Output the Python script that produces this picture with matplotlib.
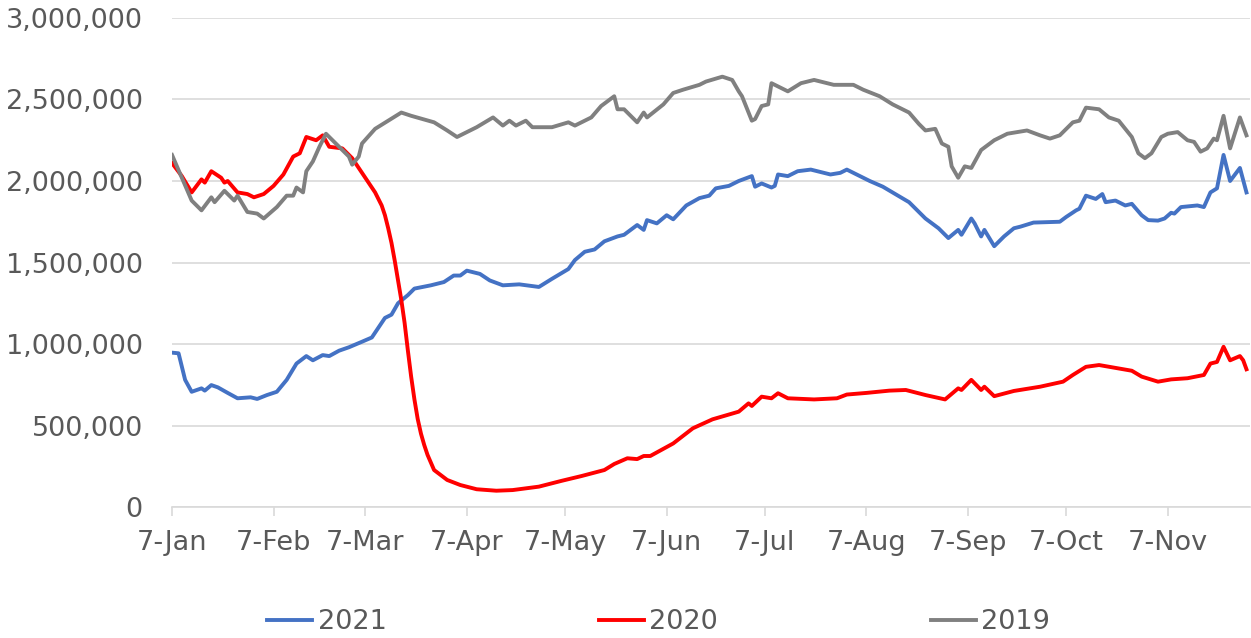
import numpy as np
import matplotlib
matplotlib.use("Agg")
import matplotlib.pyplot as plt
from matplotlib.ticker import FuncFormatter

# days counted from 7-Jan, values in millions
days_2021 = [0, 2, 4, 6, 9, 10, 12, 14, 17, 20, 24, 26, 29, 32, 35, 38, 41, 43, 46, 48,
             51, 54, 58, 61, 63, 65, 67, 69, 72, 74, 79, 83, 86, 88, 90, 94, 97, 101, 106, 112,
             116, 121, 123, 126, 129, 132, 136, 138, 142, 144, 145, 148, 151, 153, 157, 161, 164, 166, 170, 173,
             177, 178, 180, 183, 184, 185, 188, 191, 195, 201, 204, 206, 213, 217, 225, 230, 234, 237, 240, 241,
             244, 245, 247, 248, 251, 254, 257, 259, 263, 271, 273, 276, 277, 279, 282, 284, 285, 288, 291, 293,
             296, 298, 301, 303, 305, 306, 308, 313, 315, 317, 319, 321, 323, 326, 328]
vals_2021 = [0.947, 0.943, 0.78, 0.707, 0.728, 0.714, 0.748, 0.734, 0.70, 0.667, 0.673, 0.663, 0.687, 0.707, 0.78, 0.88, 0.926, 0.90, 0.932, 0.926,
             0.959, 0.98, 1.014, 1.04, 1.10, 1.16, 1.18, 1.25, 1.30, 1.34, 1.36, 1.38, 1.42, 1.42, 1.45, 1.43, 1.39, 1.36, 1.366, 1.35,
             1.40, 1.46, 1.515, 1.566, 1.58, 1.63, 1.66, 1.67, 1.73, 1.70, 1.76, 1.74, 1.79, 1.765, 1.85, 1.895, 1.91, 1.955, 1.97, 2.00,
             2.03, 1.965, 1.985, 1.96, 1.97, 2.04, 2.03, 2.06, 2.07, 2.04, 2.05, 2.07, 2.00, 1.965, 1.87, 1.77, 1.71, 1.65, 1.70, 1.67,
             1.77, 1.74, 1.66, 1.70, 1.60, 1.66, 1.71, 1.72, 1.745, 1.75, 1.78, 1.82, 1.83, 1.91, 1.89, 1.92, 1.87, 1.88, 1.85, 1.86,
             1.79, 1.76, 1.757, 1.77, 1.805, 1.80, 1.84, 1.85, 1.84, 1.93, 1.955, 2.16, 2.00, 2.08, 1.93]

days_2020 = [0, 3, 6, 9, 10, 12, 15, 16, 17, 20, 23, 25, 28, 31, 34, 37, 39, 41, 44, 46,
             48, 52, 55, 58, 60, 62, 64, 65, 66, 67, 68, 69, 70, 71, 72, 73, 74, 75, 76, 77,
             78, 80, 84, 88, 93, 99, 104, 112, 119, 125, 132, 135, 139, 142, 144, 146, 153, 159, 165, 173,
             176, 177, 180, 183, 185, 188, 196, 203, 206, 212, 219, 224, 230, 236, 240, 241, 244, 247, 248, 251,
             257, 265, 272, 275, 279, 283, 293, 296, 301, 305, 310, 315, 317, 319, 321, 323, 326, 327, 328]
vals_2020 = [2.11, 2.03, 1.93, 2.01, 1.99, 2.06, 2.02, 1.99, 2.00, 1.93, 1.92, 1.90, 1.92, 1.97, 2.04, 2.15, 2.17, 2.27, 2.25, 2.28,
             2.21, 2.20, 2.14, 2.05, 1.99, 1.93, 1.85, 1.79, 1.71, 1.62, 1.51, 1.39, 1.27, 1.13, 0.96, 0.80, 0.66, 0.54, 0.45, 0.38,
             0.32, 0.227, 0.166, 0.135, 0.109, 0.10, 0.104, 0.125, 0.161, 0.19, 0.227, 0.264, 0.299, 0.294, 0.313, 0.313, 0.39, 0.483, 0.538, 0.585,
             0.636, 0.62, 0.677, 0.667, 0.698, 0.667, 0.66, 0.667, 0.69, 0.70, 0.714, 0.718, 0.687, 0.66, 0.728, 0.718, 0.78, 0.718, 0.738, 0.68,
             0.712, 0.738, 0.769, 0.81, 0.86, 0.871, 0.836, 0.80, 0.769, 0.783, 0.79, 0.81, 0.88, 0.89, 0.983, 0.90, 0.926, 0.90, 0.845]

days_2019 = [0, 3, 6, 9, 12, 13, 16, 19, 20, 23, 26, 28, 32, 35, 37, 38, 40, 41, 43, 45,
             47, 49, 52, 54, 55, 57, 58, 62, 66, 70, 73, 80, 84, 87, 93, 98, 101, 103, 105, 108,
             110, 116, 121, 123, 128, 131, 135, 136, 138, 142, 144, 145, 150, 153, 156, 161, 163, 168, 171, 173,
             174, 177, 178, 180, 182, 183, 188, 192, 196, 202, 208, 211, 216, 220, 225, 228, 230, 233, 235, 237,
             238, 240, 242, 244, 247, 251, 255, 261, 265, 268, 271, 275, 277, 279, 283, 286, 289, 293, 295, 297,
             299, 302, 304, 307, 310, 312, 314, 316, 318, 319, 321, 323, 326, 328]
vals_2019 = [2.16, 2.02, 1.88, 1.82, 1.90, 1.87, 1.94, 1.88, 1.91, 1.81, 1.80, 1.77, 1.84, 1.91, 1.91, 1.96, 1.93, 2.06, 2.12, 2.21,
             2.29, 2.25, 2.19, 2.15, 2.10, 2.15, 2.23, 2.32, 2.37, 2.42, 2.40, 2.36, 2.31, 2.27, 2.33, 2.39, 2.34, 2.37, 2.34, 2.37,
             2.33, 2.33, 2.36, 2.34, 2.39, 2.46, 2.52, 2.44, 2.44, 2.36, 2.42, 2.39, 2.47, 2.54, 2.56, 2.59, 2.61, 2.64, 2.62, 2.55,
             2.52, 2.37, 2.38, 2.46, 2.47, 2.60, 2.55, 2.60, 2.62, 2.59, 2.59, 2.56, 2.52, 2.47, 2.42, 2.35, 2.31, 2.32, 2.23, 2.21,
             2.09, 2.02, 2.09, 2.08, 2.19, 2.25, 2.29, 2.31, 2.28, 2.26, 2.28, 2.36, 2.37, 2.45, 2.44, 2.39, 2.37, 2.27, 2.17, 2.14,
             2.17, 2.27, 2.29, 2.30, 2.25, 2.24, 2.18, 2.20, 2.26, 2.25, 2.40, 2.20, 2.39, 2.28]

months = ["Jan", "Feb", "Mar", "Apr", "May", "Jun", "Jul", "Aug", "Sep", "Oct", "Nov"]

start = np.datetime64("2021-01-07")
def to_dates(d):
    return start + np.array(d).astype("timedelta64[D]")

txt = "#595959"
grid = "#d9d9d9"

fig = plt.figure(figsize=(12.51, 6.38), dpi=100)
ax = fig.add_axes([0.1375, 0.2053, 0.8615, 0.7665])

ax.plot(to_dates(days_2021), np.array(vals_2021) * 1e6, color="#4472C4", lw=2.8, label="2021")
ax.plot(to_dates(days_2020), np.array(vals_2020) * 1e6, color="#FF0000", lw=2.8, label="2020")
ax.plot(to_dates(days_2019), np.array(vals_2019) * 1e6, color="#808080", lw=2.8, label="2019")

ax.set_ylim(0, 3e6)
ax.set_yticks(np.arange(0, 3.01e6, 5e5))
ax.yaxis.set_major_formatter(FuncFormatter(lambda v, p: f"{int(v):,}"))
ax.set_xlim(start, start + np.timedelta64(329, "D"))
ticks = [np.datetime64(f"2021-{i + 1:02d}-07") for i in range(len(months))]
ax.set_xticks(ticks)
ax.set_xticklabels(["7-" + m for m in months])

ax.grid(axis="y", color=grid, lw=1.2)
ax.set_axisbelow(True)
for s in ["top", "right", "left"]:
    ax.spines[s].set_visible(False)
ax.spines["bottom"].set_color(grid)
ax.spines["bottom"].set_linewidth(1.2)

ax.tick_params(axis="y", length=0, pad=21, labelsize=19.5, labelcolor=txt)
ax.tick_params(axis="x", length=6.5, color=grid, width=1.2, pad=10, labelsize=19.5, labelcolor=txt)

fig.legend(loc="center", bbox_to_anchor=(0.5265, 0.025), ncol=3, frameon=False,
           fontsize=19.5, labelcolor=txt, handlelength=1.67, handletextpad=0.19, columnspacing=7.85)

fig.savefig("out.png", dpi=100)
